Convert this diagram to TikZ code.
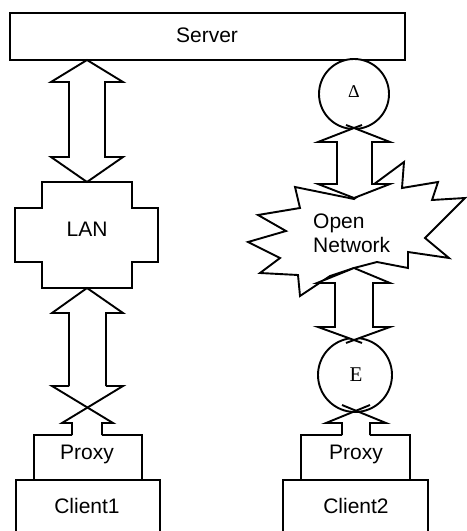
\documentclass[tikz,border=0pt]{standalone}
\usepackage{fontspec}
\setmainfont{Liberation Sans}
\newfontfamily\seriffont{Liberation Serif}
\tikzset{
  ln/.style={line width=1.9bp, line join=miter, line cap=butt, black},
  shp/.style={ln, fill=white},
  lbl/.style={font=\fontsize{21bp}{24bp}\selectfont, inner sep=0pt, anchor=base},
}
\begin{document}
\begin{tikzpicture}[x=1bp, y=-1bp]
\useasboundingbox (0,0) rectangle (467,531);
\clip (0,0) rectangle (467,531);
% Server
\draw[shp] (10,13) rectangle (405,60);
\node[lbl] (server) at (207,43) {Server};
% LAN
\draw[shp] (42,182) -- (132,182) -- (132,208) -- (158,208) -- (158,262) -- (132,262)
  -- (132,288) -- (42,288) -- (42,262) -- (15,262) -- (15,208) -- (42,208) -- cycle;
\node[lbl] (lan) at (87,236) {LAN};
% upper-left double arrow
\draw[shp] (87,60) -- (123,82) -- (105,82) -- (105,157) -- (123,157) -- (87,182)
  -- (51,157) -- (69,157) -- (69,82) -- (51,82) -- cycle;
% lower-left arrow into proxy1
\draw[shp] (69,386) -- (69,313) -- (52,313) -- (87,288) -- (123,313) -- (106,313) -- (106,386);
\draw[ln] (69,386) -- (52,386) -- (113,423) -- (102,423) -- (102,435);
\draw[ln] (106,386) -- (123,386) -- (62,423) -- (72,423) -- (72,435);
% Proxy1 and Client1
\draw[ln] (72,435) -- (34,435) -- (34,480) -- (142,480) -- (142,435) -- (102,435);
\node[lbl] (proxy1) at (87,459) {Proxy};
\draw[ln] (16,540) -- (16,480) -- (160,480) -- (160,540);
\node[lbl] (client1) at (87,513) {Client1};
% Delta circle
\draw[shp] (354,94) circle[radius=35];
\node[inner sep=0pt, anchor=base, font=\seriffont\fontsize{18bp}{20bp}\selectfont] (delta) at (354,98) {Δ};
% Open network starburst
\draw[shp] (295,187) -- (354,199) -- (404,162) -- (402,188) -- (438,182) -- (432,200)
  -- (465,198) -- (425,238) -- (449,258) -- (408,252) -- (408,268) -- (377,262)
  -- (354,268) -- (330,276) -- (300,296) -- (298,275) -- (260,273) -- (280,258)
  -- (248,242) -- (286,231) -- (258,215) -- (300,208) -- cycle;
% upper-right double arrow
\draw[shp] (354,128) -- (390,142) -- (372,142) -- (372,184) -- (390,184) -- (354,198)
  -- (318,184) -- (337,184) -- (337,142) -- (318,142) -- cycle;
\draw[ln] (354,128) -- (362,125);
\draw[ln] (354,128) -- (346,125);
\node[lbl, anchor=base west, align=left] (net) at (313,252) {Open\\Network};
% E circle
\draw[shp] (355,375) circle[radius=37];
\node[inner sep=0pt, anchor=base, font=\seriffont\fontsize{21bp}{24bp}\selectfont] (eps) at (356,381) {E};
% lower-right double arrow
\draw[shp] (354,268) -- (390,283) -- (373,283) -- (373,327) -- (390,327) -- (354,340)
  -- (318,327) -- (335,327) -- (335,283) -- (317,283) -- cycle;
\draw[ln] (354,340) -- (362,343);
\draw[ln] (354,340) -- (346,343);
% Proxy2 stub, Proxy2 and Client2
\draw[ln] (342,405) -- (386,423) -- (370,423) -- (370,435);
\draw[ln] (370,405) -- (326,423) -- (342,423) -- (342,435);
\draw[ln] (342,435) -- (301,435) -- (301,480) -- (410,480) -- (410,435) -- (370,435);
\node[lbl] (proxy2) at (356,459) {Proxy};
\draw[ln] (283,540) -- (283,480) -- (428,480) -- (428,540);
\node[lbl] (client2) at (356,513) {Client2};
\end{tikzpicture}
\end{document}
